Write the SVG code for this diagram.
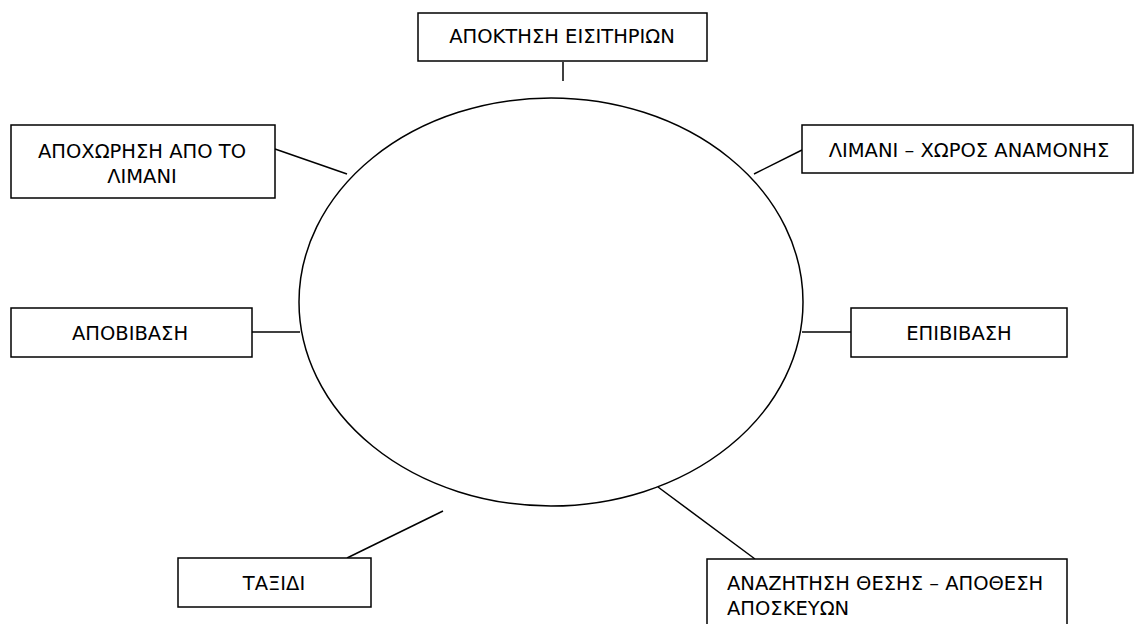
<svg xmlns="http://www.w3.org/2000/svg" width="1135" height="624" viewBox="0 0 1135 624">
<style>
.box{fill:#fff;stroke:#000;stroke-width:1.5}
.ln{stroke:#000;stroke-width:1.5;fill:none}
text{font-family:"DejaVu Sans",sans-serif;font-size:19.5px;fill:#000}
.c{text-anchor:middle}
</style>
<rect width="1135" height="624" fill="#fff"/>
<g id="connectors">
<line class="ln" x1="563" y1="62" x2="563" y2="81"/>
<line class="ln" x1="275" y1="149" x2="347" y2="174"/>
<line class="ln" x1="802" y1="150" x2="754" y2="174"/>
<line class="ln" x1="252" y1="332" x2="300" y2="332"/>
<line class="ln" x1="802" y1="332" x2="851" y2="332"/>
<line class="ln" x1="347" y1="558" x2="443" y2="511"/>
<line class="ln" x1="755" y1="559" x2="658" y2="487"/>
</g>
<g id="center"><ellipse class="ln" cx="551" cy="302" rx="252" ry="204"/></g>
<g id="n1"><rect class="box" x="418" y="13" width="289" height="48"/><text class="c" x="562" y="43">ΑΠΟΚΤΗΣΗ ΕΙΣΙΤΗΡΙΩΝ</text></g>
<g id="n2"><rect class="box" x="11" y="125" width="264" height="73"/><text class="c" x="142" y="158">ΑΠΟΧΩΡΗΣΗ ΑΠΟ ΤΟ</text><text class="c" x="142" y="183">ΛΙΜΑΝΙ</text></g>
<g id="n3"><rect class="box" x="802" y="125" width="331" height="48"/><text class="c" x="969" y="157">ΛΙΜΑΝΙ – ΧΩΡΟΣ ΑΝΑΜΟΝΗΣ</text></g>
<g id="n4"><rect class="box" x="11" y="308" width="241" height="49"/><text class="c" x="130" y="340">ΑΠΟΒΙΒΑΣΗ</text></g>
<g id="n5"><rect class="box" x="851" y="308" width="216" height="49"/><text class="c" x="959" y="340">ΕΠΙΒΙΒΑΣΗ</text></g>
<g id="n6"><rect class="box" x="178" y="558" width="193" height="49"/><text class="c" x="274" y="590">ΤΑΞΙΔΙ</text></g>
<g id="n7"><rect class="box" x="707" y="559" width="360" height="80"/><text x="727" y="590">ΑΝΑΖΗΤΗΣΗ ΘΕΣΗΣ – ΑΠΟΘΕΣΗ</text><text x="727" y="615">ΑΠΟΣΚΕΥΩΝ</text></g>
</svg>
